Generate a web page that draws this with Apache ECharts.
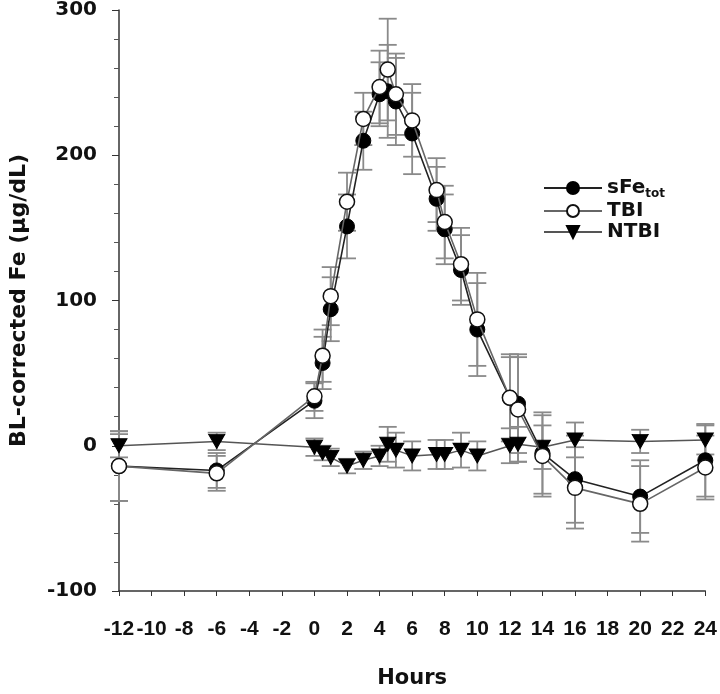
<!DOCTYPE html>
<html>
<head>
<meta charset="utf-8">
<script src="https://cdn.jsdelivr.net/npm/echarts@6/dist/echarts.min.js"></script>
<style>
  html, body { margin: 0; padding: 0; background: #fff; }
  #chart { width: 720px; height: 694px; }
</style>
</head>
<body>
<div id="chart"></div>
<script>
// sampling times (h)
const hours = [-12, -6, 0, 0.5, 1, 2, 3, 4, 4.5, 5, 6, 7.5, 8, 9, 10, 12, 12.5, 14, 16, 20, 24];

// BL-corrected Fe, µg/dL (mean and error)
const sFe = [-14, -17, 31, 57, 94, 151, 210, 242, 244, 237, 215, 170, 149, 121, 80, 33, 29, -5, -23, -35, -10];
const sFeErr = [24, 12, 12, 18, 22, 22, 20, 22, 32, 30, 28, 22, 24, 24, 32, 30, 34, 28, 30, 25, 25];
const TBI = [-14, -19, 34, 62, 103, 168, 225, 247, 259, 242, 224, 176, 154, 125, 87, 33, 25, -7, -29, -40, -15];
const TBIErr = [24, 12, 10, 18, 20, 20, 18, 25, 35, 28, 25, 22, 25, 25, 32, 28, 36, 28, 28, 26, 22];
const NTBI = [0, 3, -1, -5, -8, -14, -10, -7, 1, -3, -7, -6, -6, -3, -7, 0, 1, -1, 4, 3, 4];
const NTBIErr = [8, 6, 6, 5, 6, 5, 6, 7, 12, 12, 10, 10, 10, 12, 10, 12, 12, 15, 12, 8, 10];

const xTicks = [-12, -10, -8, -6, -4, -2, 0, 2, 4, 6, 8, 10, 12, 14, 16, 18, 20, 22, 24];
const yTicks = [-100, 0, 100, 200, 300];

const font = "'DejaVu Sans', sans-serif";
const narrowFont = "'Liberation Sans', Arial, sans-serif";

function pts(vals) {
  return hours.map((h, i) => [h, vals[i]]);
}
function errData(vals, errs) {
  return hours.map((h, i) => [h, vals[i] - errs[i], vals[i] + errs[i]]);
}

// vertical error bar with caps
function errorBar(params, api) {
  const lo = api.coord([api.value(0), api.value(1)]);
  const hi = api.coord([api.value(0), api.value(2)]);
  const w = 9;
  const style = { stroke: "#8a8a8a", lineWidth: 1.8 };
  return {
    type: "group",
    children: [
      { type: "line", shape: { x1: hi[0], y1: hi[1], x2: lo[0], y2: lo[1] }, style: style },
      { type: "line", shape: { x1: hi[0] - w, y1: hi[1], x2: hi[0] + w, y2: hi[1] }, style: style },
      { type: "line", shape: { x1: lo[0] - w, y1: lo[1], x2: lo[0] + w, y2: lo[1] }, style: style },
    ],
  };
}

const chart = echarts.init(document.getElementById("chart"));

const option = {
  animation: false,
  grid: { left: 119, right: 14, top: 8, bottom: 99, containLabel: false },
  legend: {
    orient: "vertical",
    left: 538,
    top: 173,
    itemWidth: 58,
    itemHeight: 15,
    itemGap: 1,
    data: ["sFe", "TBI", "NTBI"],
    formatter: function (name) {
      return name === "sFe" ? "{m|sFe}{s|tot}" : "{m|" + name + "}";
    },
    textStyle: {
      fontFamily: font,
      rich: {
        m: { fontSize: 20, fontWeight: "bold", color: "#111", fontFamily: font },
        s: { fontSize: 12, fontWeight: "bold", color: "#111", fontFamily: font, padding: [12, 0, 0, 0] },
      },
    },
  },
  xAxis: {
    type: "value",
    min: -12,
    max: 24,
    interval: 2,
    name: "Hours",
    nameLocation: "middle",
    nameGap: 77,
    nameTextStyle: { fontFamily: font, fontSize: 21, fontWeight: "bold", color: "#111" },
    axisLine: { onZero: false, lineStyle: { color: "#333", width: 1.5 } },
    axisTick: { show: true, length: 5, lineStyle: { color: "#333" } },
    axisLabel: {
      fontFamily: narrowFont, fontSize: 21, fontWeight: "bold", color: "#111", margin: 28,
      showMinLabel: true, showMaxLabel: true, hideOverlap: false,
      formatter: v => (xTicks.indexOf(v) >= 0 ? String(v) : ""),
    },
    splitLine: { show: false },
  },
  yAxis: {
    type: "value",
    min: -100,
    max: 300,
    interval: 100,
    name: "BL-corrected Fe (µg/dL)",
    nameLocation: "middle",
    nameRotate: 90,
    nameGap: 89,
    nameTextStyle: { fontFamily: font, fontSize: 22, fontWeight: "bold", color: "#111" },
    axisLine: { show: true, onZero: false, lineStyle: { color: "#333", width: 1.5 } },
    axisTick: { show: true, length: 7, lineStyle: { color: "#333" } },
    minorTick: { show: true, splitNumber: 5, length: 5, lineStyle: { color: "#555" } },
    axisLabel: {
      fontFamily: font, fontSize: 20, fontWeight: "bold", color: "#111", margin: 22,
      showMinLabel: true, showMaxLabel: true,
      formatter: v => (yTicks.indexOf(v) >= 0 ? String(v) : ""),
    },
    splitLine: { show: false },
  },
  series: [
    { type: "custom", name: "errNTBI", renderItem: errorBar, data: errData(NTBI, NTBIErr), z: 1, silent: true },
    { type: "custom", name: "errTBI", renderItem: errorBar, data: errData(TBI, TBIErr), z: 1, silent: true },
    { type: "custom", name: "errSFe", renderItem: errorBar, data: errData(sFe, sFeErr), z: 1, silent: true },
    {
      name: "NTBI", type: "line", data: pts(NTBI), z: 3,
      symbol: "triangle", symbolRotate: 180, symbolSize: [16, 14],
      lineStyle: { color: "#555", width: 1.5 },
      itemStyle: { color: "#000", borderColor: "#000", borderWidth: 1 },
    },
    {
      name: "sFe", type: "line", data: pts(sFe), z: 4,
      symbol: "circle", symbolSize: 15,
      lineStyle: { color: "#222", width: 1.6 },
      itemStyle: { color: "#000", borderColor: "#000", borderWidth: 1 },
    },
    {
      name: "TBI", type: "line", data: pts(TBI), z: 5,
      symbol: "circle", symbolSize: 15,
      lineStyle: { color: "#666", width: 1.6 },
      itemStyle: { color: "#fff", borderColor: "#111", borderWidth: 1.5 },
    },
  ],
};

chart.setOption(option);
</script>
</body>
</html>
